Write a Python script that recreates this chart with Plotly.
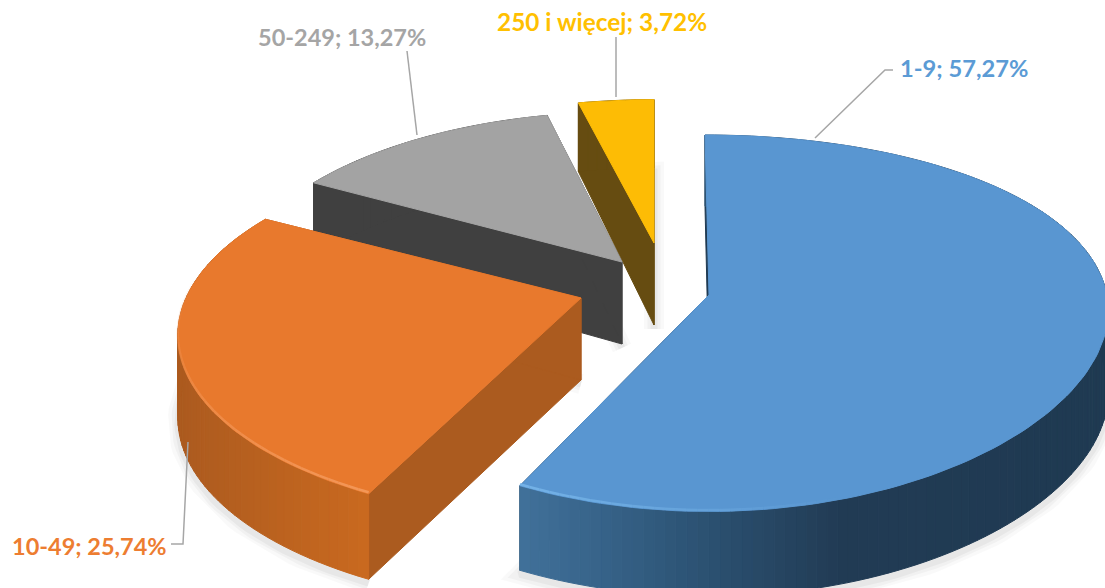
import numpy as np
import plotly.graph_objects as go

# ---- data ----
categories = ["1-9", "10-49", "50-249", "250 i więcej"]
shares = [57.27, 25.74, 13.27, 3.72]
share_labels = ["57,27%", "25,74%", "13,27%", "3,72%"]

# ---- style ----
top_colors = ["#5996D1", "#E8792D", "#A3A3A3", "#FDBC05"]
text_colors = ["#5B9BD5", "#ED7D31", "#A5A5A5", "#FFC000"]
wall_ramps = [
    [(0.0, "#1F3A52"), (0.45, "#223C55"), (0.72, "#2E5678"), (1.0, "#42729C")],
    [(0.0, "#C9691F"), (1.0, "#AC5B1F")],
    [(0.0, "#404040"), (1.0, "#404040")],
    [(0.0, "#664C11"), (1.0, "#664C11")],
]
cut_colors = ["#1F3A52", "#AB5B1F", "#404040", "#664C11"]
apex_px = [(709, 295), (581, 298), (622, 262), (654, 243)]
radius_x = [398, 395, 386, 390]
radius_y = [184, 179, 180, 172]
persp_x = [0.08, 0.2, 0.2, 0.2]
persp_y = [0.15, 0.2, 0.2, 0.2]
skew_x = [-4, 0, 0, 0]
label_px = [(964, 68), (89, 546), (342, 37), (602, 21)]
label_size = [23.7, 23.5, 23.5, 24.4]
leaders = [
    ([815, 885, 893], [138, 70, 70]),
    ([188, 183, 171], [442, 544, 544]),
    ([417, 407], [135, 51]),
    ([616, 616], [97, 37]),
]
DEPTH = 82


def hex_rgb(h):
    return np.array([int(h[i:i + 2], 16) for i in (1, 3, 5)], float)


def ramp(stops, t):
    for (t0, c0), (t1, c1) in zip(stops, stops[1:]):
        if t <= t1:
            f = (t - t0) / (t1 - t0)
            r = hex_rgb(c0) * (1 - f) + hex_rgb(c1) * f
            return "rgb(%d,%d,%d)" % tuple(r)
    return stops[-1][1]


fig = go.Figure()


def poly(xs, ys, color):
    fig.add_trace(go.Scatter(x=list(xs) + [xs[0]], y=list(ys) + [ys[0]], mode="lines", fill="toself",
                             fillcolor=color, line=dict(color=color, width=1), hoverinfo="skip", showlegend=False))


edges = np.concatenate([[0], np.cumsum(shares)]) / 100 * 2 * np.pi
for i in [3, 2, 1, 0]:  # far to near
    a0, a1 = edges[i], edges[i + 1]
    ax, ay = apex_px[i]
    th = np.linspace(a0, a1, max(8, int((a1 - a0) * 40)))
    c = np.cos(th)
    sx = 1 / (1 + persp_x[i] * c)
    s = 1 / (1 + persp_y[i] * c)
    px = ax + radius_x[i] * np.sin(th) * sx + skew_x[i] * np.clip(c, 0, 1)
    py = ay - radius_y[i] * c * s
    dep = np.where(s < 1, DEPTH * s, DEPTH + 4 * (s - 1) / 0.25)

    # soft shadow below the slab
    for w, al in [(20, 0.025), (13, 0.03), (7, 0.04)]:
        fig.add_trace(go.Scatter(x=list(px) + [ax], y=list(py + dep + 4) + [ay + DEPTH + 4], mode="lines",
                                 line=dict(color=f"rgba(0,0,0,{al})", width=w), hoverinfo="skip", showlegend=False))

    # cut faces
    for j in (0, -1):
        poly([ax, px[j], px[j], ax], [ay, py[j], py[j] + dep[j], ay + DEPTH], cut_colors[i])

    # curved wall, drawn as narrow facets
    n = len(th)
    sx_min, sx_max = px.min(), px.max()
    for k in range(n - 1):
        t = 1 - (px[k] - sx_min) / (sx_max - sx_min)
        poly([px[k], px[k + 1], px[k + 1], px[k]],
             [py[k], py[k + 1], py[k + 1] + dep[k + 1], py[k] + dep[k]], ramp(wall_ramps[i], float(t)))

    # top face
    poly([ax] + list(px), [ay] + list(py), top_colors[i])

    # bevel highlight along the near rim, fading away from the corner
    if i in (0, 1):
        light = "244,154,92" if i == 1 else "120,182,234"
        corner = np.pi * 2 * shares[0] / 100
        span = np.radians(45 if i == 0 else 70)
        idx = np.where(np.abs(th - corner) < span)[0]
        for k0, k1 in zip(idx[:-1], idx[1:]):
            fade = 1 - abs(th[k0] - corner) / span
            fig.add_trace(go.Scatter(x=[px[k0], px[k1]], y=[py[k0] - 1.5, py[k1] - 1.5], mode="lines",
                                     line=dict(color=f"rgba({light},{0.9 * fade:.2f})", width=2.5),
                                     hoverinfo="skip", showlegend=False))

for (lx, ly) in leaders:
    fig.add_trace(go.Scatter(x=lx, y=ly, mode="lines", line=dict(color="#A6A6A6", width=1.5),
                             hoverinfo="skip", showlegend=False))

for name, lab, col, (x, y), size in zip(categories, share_labels, text_colors, label_px, label_size):
    fig.add_annotation(x=x, y=y, text=f"<b>{name}; {lab}</b>", showarrow=False, xanchor="center", yanchor="middle",
                       font=dict(family="Lato", size=size, color=col))

fig.update_layout(width=1105, height=588, margin=dict(l=0, r=0, t=0, b=0), paper_bgcolor="white",
                  plot_bgcolor="white", showlegend=False,
                  xaxis=dict(range=[0, 1105], visible=False, fixedrange=True),
                  yaxis=dict(range=[588, 0], visible=False, fixedrange=True))
fig.write_html("out.html", config=dict(displayModeBar=False),
               post_script="document.body.style.margin='0';document.documentElement.style.overflow='hidden';")
